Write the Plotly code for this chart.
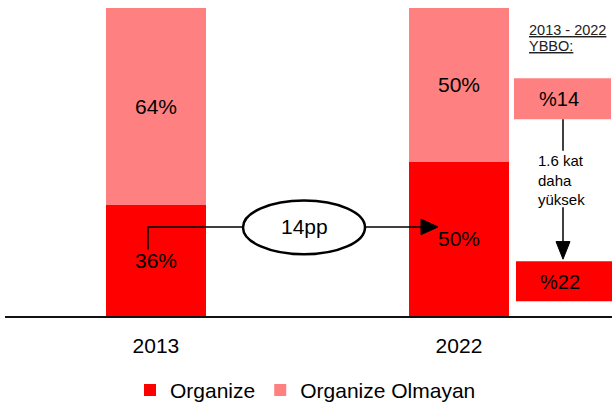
import plotly.graph_objects as go

years = ["2013", "2022"]
organize = [36, 50]
organize_olmayan = [64, 50]
series_names = ["Organize", "Organize Olmayan"]
cagr_labels = ["%14", "%22"]
pp_label = "14pp"
multiplier_label = "1.6 kat<br>daha<br>yüksek"
header_lines = ["<u>2013 - 2022</u>", "<u>YBBO:</u>"]

RED = "#FF0000"
PINK = "#FF8080"
W, H = 615, 411
FONT = "Liberation Sans, Arial, sans-serif"
FS = 21


def px(x):
    return x / W


def py(y):
    return 1 - y / H


xs = [0, 1]
fig = go.Figure()
fig.add_trace(go.Bar(
    x=xs, y=organize, name=series_names[0], marker=dict(color=RED, line=dict(width=0)),
    width=0.33, text=[f"{v}%" for v in organize], textposition="inside",
    insidetextanchor="middle", textfont=dict(size=FS, color="black", family=FONT),
))
fig.add_trace(go.Bar(
    x=xs, y=organize_olmayan, name=series_names[1], marker=dict(color=PINK, line=dict(width=0)),
    width=0.33, text=[f"{v}%" for v in organize_olmayan], textposition="inside",
    insidetextanchor="middle", textfont=dict(size=FS, color="black", family=FONT),
))

shapes = []
annotations = []


def note(x, y, text, size, xanchor="center", align="center", color="black"):
    annotations.append(dict(x=px(x), y=py(y), xref="paper", yref="paper", text=text,
                            showarrow=False, xanchor=xanchor, yanchor="middle", align=align,
                            font=dict(size=size, color=color, family=FONT)))


# 14pp connector
shapes.append(dict(type="path", xref="paper", yref="paper",
                   path=f"M{px(148)},{py(255)} L{px(148)},{py(232)} L{px(243)},{py(232)}",
                   line=dict(color="black", width=1.5)))
shapes.append(dict(type="line", xref="paper", yref="paper",
                   x0=px(365), y0=py(232), x1=px(422), y1=py(232),
                   line=dict(color="black", width=1.5)))
shapes.append(dict(type="path", xref="paper", yref="paper",
                   path=f"M{px(421)},{py(224)} L{px(438)},{py(232)} L{px(421)},{py(240)} Z",
                   fillcolor="black", line=dict(color="black", width=1)))
shapes.append(dict(type="circle", xref="paper", yref="paper",
                   x0=px(243), x1=px(365), y0=py(260), y1=py(205),
                   fillcolor="white", line=dict(color="black", width=2.5)))
note(304, 232, pp_label, FS)

# Right panel
note(527, 30.5, header_lines[0], 14.5, xanchor="left", align="left", color="#222")
note(527, 47, header_lines[1], 14.5, xanchor="left", align="left", color="#222")
shapes.append(dict(type="rect", xref="paper", yref="paper", x0=px(514), x1=px(611),
                   y0=py(122), y1=py(80), fillcolor=PINK, line=dict(width=0)))
shapes.append(dict(type="rect", xref="paper", yref="paper", x0=px(516), x1=px(612),
                   y0=py(308), y1=py(267), fillcolor=RED, line=dict(width=0)))
note(559, 101, cagr_labels[0], 20)
note(560, 288, cagr_labels[1], 20)
shapes.append(dict(type="line", xref="paper", yref="paper", x0=px(563), x1=px(563),
                   y0=py(122), y1=py(154), line=dict(color="black", width=1.5)))
shapes.append(dict(type="line", xref="paper", yref="paper", x0=px(563), x1=px(563),
                   y0=py(212), y1=py(248), line=dict(color="black", width=1.5)))
shapes.append(dict(type="path", xref="paper", yref="paper",
                   path=f"M{px(556)},{py(247)} L{px(570)},{py(247)} L{px(563)},{py(265)} Z",
                   fillcolor="black", line=dict(color="black", width=1)))
note(536, 184, multiplier_label, 15, xanchor="left", align="left")

fig.update_layout(
    width=W, height=H, barmode="stack", bargap=0,
    margin=dict(l=0, r=0, t=0, b=0),
    paper_bgcolor="white", plot_bgcolor="white",
    font=dict(family=FONT, color="black"),
    shapes=shapes, annotations=annotations,
    showlegend=True,
    legend=dict(orientation="h", x=0.5 - 2 / W, xanchor="center", y=py(399), yanchor="middle",
                font=dict(size=FS, color="black", family=FONT), traceorder="normal",
                itemwidth=30, bgcolor="rgba(0,0,0,0)"),
    xaxis=dict(domain=[px(5), px(612)], range=[-0.498, 1.505], tickvals=xs, ticktext=years,
               showline=True, linecolor="#111", linewidth=2, showgrid=False, zeroline=False,
               ticks="outside", ticklen=10, tickcolor="rgba(0,0,0,0)",
               tickfont=dict(size=FS, color="black", family=FONT), fixedrange=True),
    yaxis=dict(domain=[1 - 323 / H, 1 - 8 / H], range=[0, 100], visible=False, fixedrange=True),
)

fig.write_html("out.html", config={"displayModeBar": False})
with open("out.html", "r", encoding="utf-8") as f:
    html = f.read()
html = html.replace("<head>", "<head><style>html,body{margin:0;padding:0;overflow:hidden;}</style>", 1)
with open("out.html", "w", encoding="utf-8") as f:
    f.write(html)
